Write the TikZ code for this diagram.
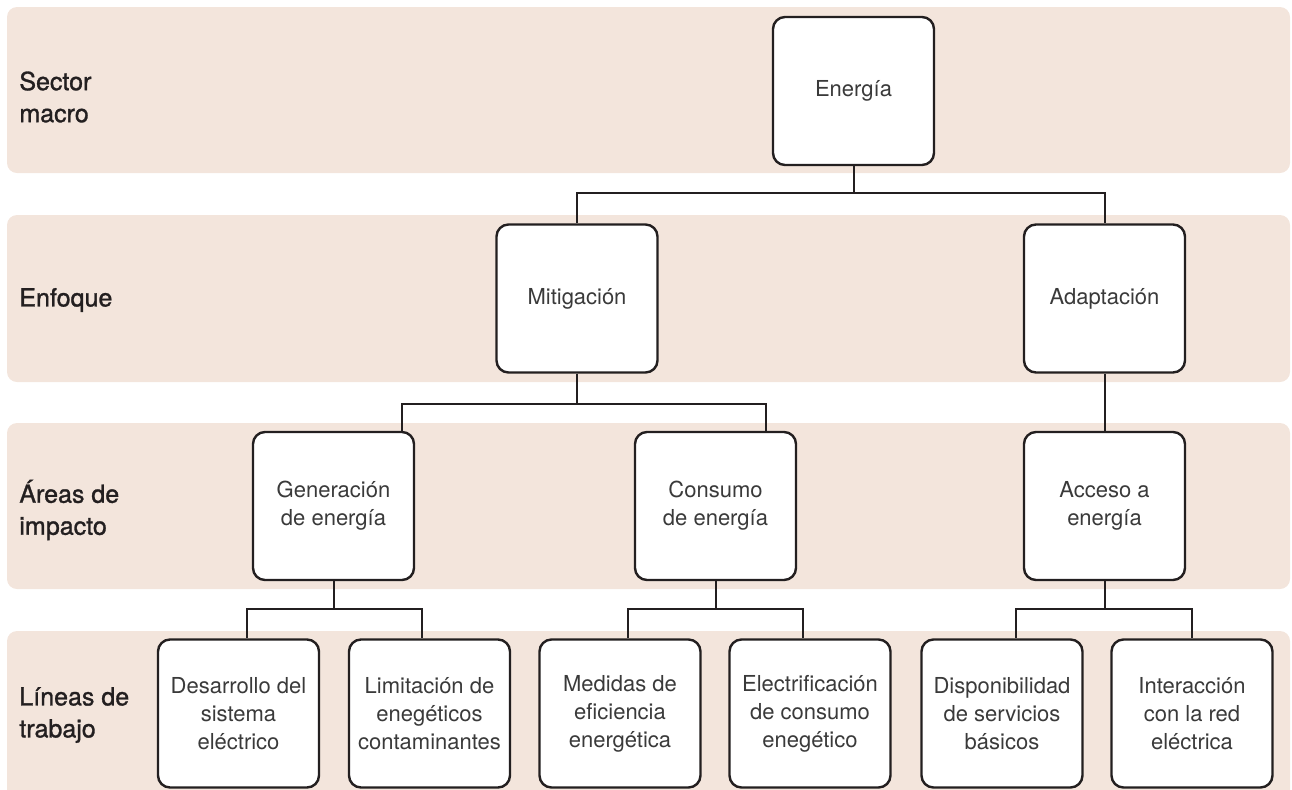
\documentclass[tikz,border=0pt]{standalone}
\usepackage{fontspec}
\setmainfont{TeX Gyre Heros}
\newfontfamily\medfont[FakeBold=1.2]{TeX Gyre Heros}
\usepackage{tikz}
\usetikzlibrary{positioning,calc}
\definecolor{banda}{RGB}{243,229,220}
\definecolor{tinta}{RGB}{35,31,32}
\definecolor{gris}{RGB}{58,58,58}
\tikzstyle{band}=[fill=banda, draw=none, rounded corners=5pt]
\tikzstyle{box}=[rectangle, draw=tinta, line width=1.2pt, fill=white, rounded corners=6pt, minimum width=80.5pt, minimum height=74pt, inner sep=1pt, align=center, text=gris, font=\fontsize{11}{14}\selectfont]
\tikzstyle{lab}=[anchor=west, align=left, inner sep=0pt, text=tinta, font=\fontsize{12.5}{16}\selectfont\medfont]
\tikzstyle{wire}=[draw=tinta, line width=1pt]

\begin{document}
\begin{tikzpicture}[x=0.5pt, y=-0.5pt]
      \useasboundingbox (0,0) rectangle (1292,789);
      \clip (0,0) rectangle (1292,789);
      % bandas
      \path[band] (7,7) rectangle (1290,173);
      \path[band] (7,215) rectangle (1290,382);
      \path[band] (7,423) rectangle (1290,589);
      \path[band] (7,631) rectangle (1290,820);
      %
      \node at (19,97) [lab] (l1) {Sector\\macro};
      \node at (19,300) [lab] (l2) {Enfoque};
      \node at (19,510) [lab] (l3) {Áreas de\\impacto};
      \node at (19,715) [lab] (l4) {Líneas de\\trabajo};
      %
      \node at (853.5,91) [box] (ene) {Energía};
      \node at (577,298.5) [box] (mit) {Mitigación};
      \node at (1104.5,298.5) [box] (ada) {Adaptación};
      \node at (333.5,506) [box] (gen) {Generación\\de energía};
      \node at (715.5,506) [box] (con) {Consumo\\de energía};
      \node at (1104.5,506) [box] (acc) {Acceso a\\energía};
      \node at (238.5,713.5) [box] (des) {Desarrollo del\\sistema\\eléctrico};
      \node at (429.5,713.5) [box] (lim) {Limitación de\\enegéticos\\contaminantes};
      \node at (620,713.5) [box] (med) {Medidas de\\eficiencia\\energética};
      \node at (810,713.5) [box] (ele) {Electrificación\\de consumo\\enegético};
      \node at (1002,713.5) [box] (dis) {Disponibilidad\\de servicios\\básicos};
      \node at (1192,713.5) [box] (inter) {Interacción\\con la red\\eléctrica};
      % conectores
      \draw[wire] (ene.south) -- ++(0,27) -| (mit.north);
      \draw[wire] (ene.south) -- ++(0,27) -| (ada.north);
      \draw[wire] (mit.south) -- ++(0,30) -| ($(gen.north)+(68,0)$);
      \draw[wire] (mit.south) -- ++(0,30) -| ($(con.north)+(50,0)$);
      \draw[wire] (ada.south) -- (acc.north);
      \draw[wire] (gen.south) -- ++(0,28) -| ($(des.north)+(8,0)$);
      \draw[wire] (gen.south) -- ++(0,28) -| ($(lim.north)+(-8,0)$);
      \draw[wire] (con.south) -- ++(0,28) -| ($(med.north)+(8,0)$);
      \draw[wire] (con.south) -- ++(0,28) -| ($(ele.north)+(-7,0)$);
      \draw[wire] (acc.south) -- ++(0,28) -| ($(dis.north)+(14,0)$);
      \draw[wire] (acc.south) -- ++(0,28) -| (inter.north);
      %
\end{tikzpicture}
\end{document}
